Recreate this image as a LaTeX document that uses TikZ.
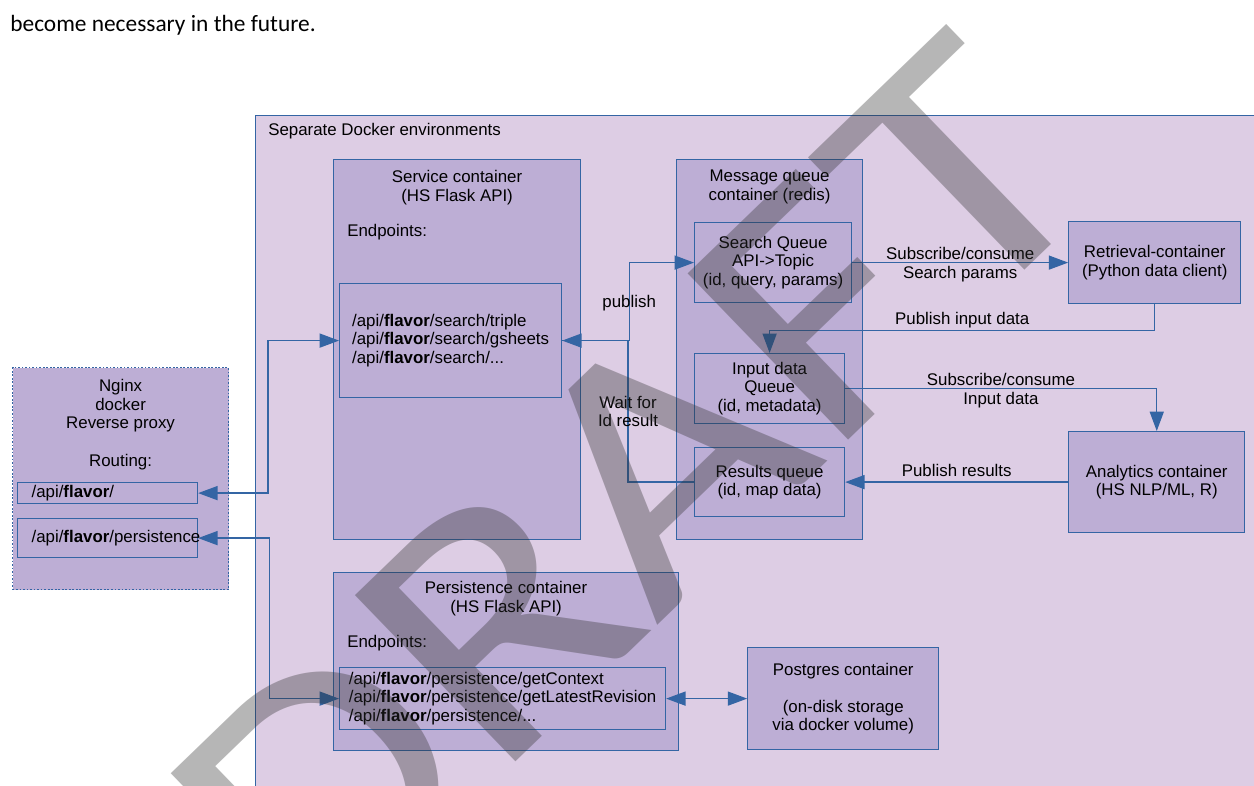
\documentclass[tikz,border=0pt]{standalone}
\usepackage{fontspec}
\usepackage{xcolor}
\usepackage{tikz}
\usetikzlibrary{positioning,calc,arrows.meta}
\setmainfont{Liberation Sans}
\newfontfamily\pageFont{Carlito}
\definecolor{envFill}{RGB}{221,205,228}
\definecolor{boxFill}{RGB}{189,174,213}
\definecolor{boxLine}{RGB}{52,101,164}
\newcommand{\flv}{\textbf{flavor}}
\newcommand{\diagSize}{\fontsize{9.6}{10.6}\selectfont}
\tikzset{
  envBox/.style={
    rectangle,
    draw=boxLine,
    fill=envFill,
    line width=0.7pt,
    anchor=north west,
    inner sep=0pt
  },
  containerBox/.style={
    rectangle,
    draw=boxLine,
    fill=boxFill,
    line width=0.7pt,
    anchor=north west,
    inner sep=0pt
  },
  proxyBox/.style={
    containerBox,
    dash pattern=on 1pt off 1pt
  },
  queueBox/.style={
    rectangle,
    draw=boxLine,
    line width=0.7pt,
    anchor=north west,
    inner sep=0pt,
    align=center
  },
  serviceBox/.style={
    queueBox,
    fill=boxFill
  },
  routeBox/.style={
    rectangle,
    draw=boxLine,
    line width=0.7pt,
    anchor=north west,
    inner xsep=0.28cm,
    inner ysep=0pt,
    text width=3.04cm,
    align=left
  },
  titleText/.style={
    align=center,
    inner sep=0pt
  },
  plainText/.style={
    anchor=west,
    inner sep=0pt
  },
  flowLabel/.style={
    align=center,
    inner sep=0pt,
    text depth=2pt
  },
  arrowLine/.style={
    -{Triangle[length=11pt,width=8pt]},
    draw=boxLine,
    line width=0.7pt
  },
  biArrow/.style={
    {Triangle[length=11pt,width=8pt]}-{Triangle[length=11pt,width=8pt]},
    draw=boxLine,
    line width=0.7pt
  },
  watermark/.style={
    font={\pageFont\fontsize{205}{205}\selectfont},
    text=black!82,
    opacity=0.35,
    rotate=44,
    xscale=1.15,
    anchor=base west,
    inner sep=0pt
  }
}

\begin{document}
\begin{tikzpicture}[x=0.02cm, y=-0.02cm, font=\diagSize]
        \useasboundingbox (0,0) rectangle (1254,786);
        \clip (0,0) rectangle (1254,786);

        \node[anchor=base west, inner sep=0pt, font={\pageFont\fontsize{13.3}{16}\selectfont}] (pageText) at (10,32) {become necessary in the future.};

        \node[envBox, minimum width=20.9cm, minimum height=14cm] (dockerEnv) at (255,115) {};
        \node[plainText] (envTitle) at (268,131) {Separate Docker environments};

        \node[proxyBox, minimum width=4.32cm, minimum height=4.44cm] (nginx) at (12,367) {};
        \node[titleText, below=0.24cm of nginx.north] (nginxTitle) {Nginx\\docker\\Reverse proxy\\[10.6pt]Routing:};
        \node[routeBox, minimum height=0.42cm] (routeApi) at (17,482) {/api/\flv/};
        \node[routeBox, minimum height=0.78cm] (routePers) at (17,518) {/api/\flv/persistence};

        \node[containerBox, minimum width=4.94cm, minimum height=7.6cm] (svcBox) at (333,159) {};
        \node[titleText, below=0.22cm of svcBox.north] (svcTitle) {Service container\\(HS Flask API)};
        \node[plainText] (svcEpLabel) at (347,232) {Endpoints:};
        \node[queueBox, align=left, minimum width=4.44cm, minimum height=2.28cm] (svcEp) at (339,283) {/api/\flv/search/triple\\/api/\flv/search/gsheets\\/api/\flv/search/...};

        \node[containerBox, minimum width=3.72cm, minimum height=7.6cm] (mqBox) at (676,159) {};
        \node[titleText, below=0.22cm of mqBox.north] (mqTitle) {Message queue\\container (redis)};
        \node[queueBox, minimum width=3.14cm, minimum height=1.6cm] (searchQ) at (694,222) {Search Queue\\API->Topic\\(id, query, params)};
        \node[queueBox, minimum width=3cm, minimum height=1.4cm] (inputQ) at (694,353) {Input data\\Queue\\(id, metadata)};
        \node[queueBox, minimum width=3cm, minimum height=1.38cm] (resultsQ) at (694,447) {Results queue\\(id, map data)};

        \node[serviceBox, minimum width=3.44cm, minimum height=1.64cm, right=4.32cm of searchQ] (retrieval) {Retrieval-container\\(Python data client)};
        \node[serviceBox, minimum width=3.52cm, minimum height=2.02cm, right=4.46cm of resultsQ] (analytics) {Analytics container\\(HS NLP/ML, R)};

        \node[containerBox, minimum width=6.9cm, minimum height=3.56cm] (persBox) at (333,572) {};
        \node[titleText, below=0.18cm of persBox.north] (persTitle) {Persistence container\\(HS Flask API)};
        \node[plainText] (persEpLabel) at (347,643) {Endpoints:};
        \node[queueBox, align=left, minimum width=6.52cm, minimum height=1.24cm] (persEp) at (339,667) {/api/\flv/persistence/getContext\\/api/\flv/persistence/getLatestRevision\\/api/\flv/persistence/...};
        \node[serviceBox, minimum width=3.82cm, minimum height=2.04cm, right=1.62cm of persEp] (postgres) {Postgres container\\[10.6pt](on-disk storage\\via docker volume)};

        \draw[biArrow] (svcEp.west) -- ++(-71,0) |- (routeApi.east);
        \draw[biArrow] (routePers.east) -- ++(71,0) |- (persEp.west);
        \draw[biArrow] (persEp) -- (postgres);
        \draw[arrowLine] (svcEp.east) -- ++(67,0) |- node[pos=0.25, flowLabel, text depth=0pt]{publish} (searchQ.west);
        \draw[arrowLine] (resultsQ.west) -- ++(-66,0) |- node[pos=0.25, flowLabel, text depth=0pt]{Wait for\\Id result} (svcEp.east);
        \draw[arrowLine] (searchQ) -- node[flowLabel, text depth=0pt]{Subscribe/consume\\Search params} (retrieval);
        \draw[arrowLine] (retrieval.south) -- ++(0,26) -| node[pos=0.25, flowLabel, above=1pt]{Publish input data} (inputQ.north);
        \draw[arrowLine] (inputQ.east) -| node[pos=0.25, flowLabel, text depth=0pt]{Subscribe/consume\\Input data} (analytics.north);
        \draw[arrowLine] (analytics) -- node[flowLabel, above=1pt]{Publish results} (resultsQ);

        \node[watermark] (draftMark) at (311,960) {DRAFT};
    \end{tikzpicture}
\end{document}
